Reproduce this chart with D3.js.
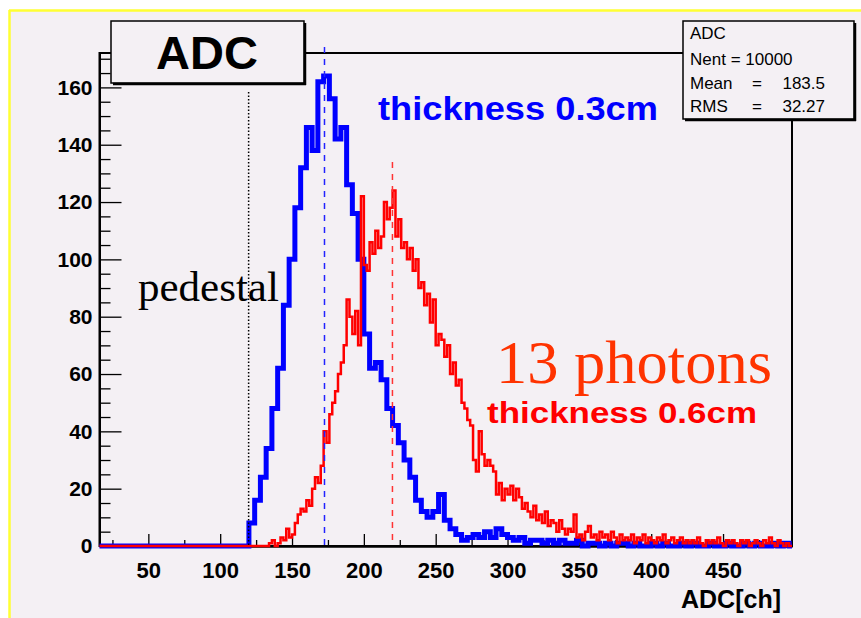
<!DOCTYPE html>
<html>
<head>
<meta charset="utf-8">
<script src="https://cdn.jsdelivr.net/npm/d3@7"></script>
<style>
  html, body { margin: 0; padding: 0; background: #ffffff; }
  svg { display: block; }
</style>
</head>
<body>
<svg id="chart" width="861" height="618"></svg>
<script>
// ---------------- data ----------------
const xDomain = [16, 498];
const yDomain = [0, 172];
const xMajorTicks = [50, 100, 150, 200, 250, 300, 350, 400, 450];
const xMinorTicks = [25, 75, 125, 175, 225, 275, 325, 375, 425, 475];
const yMajorTicks = [0, 20, 40, 60, 80, 100, 120, 140, 160];
const yMinorTicks = [5, 10, 15, 25, 30, 35, 45, 50, 55, 65, 70, 75, 85, 90, 95,
  105, 110, 115, 125, 130, 135, 145, 150, 155, 165, 170];

// thickness 0.3cm (blue): bins of 4 ch starting at 120
const blueLow = 120, blueBinWidth = 4;
const blueCounts = [
  8, 16, 24, 34, 48, 62, 84, 100, 118, 132,
  146, 138, 162, 164, 156, 142, 146, 126, 116, 100,
  74, 62, 64, 58, 48, 42, 36, 30, 24, 16,
  12, 10, 12, 18, 9, 6, 4, 2, 3, 4,
  3, 5, 3, 6, 4, 3, 2, 3, 1, 2,
  2, 1, 2, 1, 2, 1, 1, 2, 0, 1,
  1, 0, 1, 0, 1, 1, 0, 1, 0, 0,
  1, 0, 1, 0, 0, 1, 0, 1, 0, 0,
  1, 0, 0, 1, 0, 0, 1, 0, 1, 0,
  0, 1, 0, 1
];

// thickness 0.6cm (red): bins of 2 ch starting at 130
const redLow = 130, redBinWidth = 2;
const redCounts = [
  0, 0, 1, 2, 0, 1, 3, 2, 6, 3,          // 130-148
  4, 8, 11, 13, 12, 16, 14, 20, 24, 22,  // 150-168
  28, 40, 36, 46, 50, 54, 60, 64, 70, 86,// 170-188
  80, 74, 82, 70, 122, 98, 96, 106, 102, 110, // 190-208
  104, 108, 120, 114, 118, 124, 108, 114, 104, 106, // 210-228
  100, 104, 96, 100, 90, 92, 84, 88, 78, 86, // 230-248
  70, 74, 72, 66, 70, 60, 64, 56, 58, 50,  // 250-268
  48, 44, 42, 30, 26, 40, 32, 28, 30, 28,  // 270-288
  26, 18, 22, 16, 20, 18, 21, 16, 20, 17,  // 290-308
  13, 15, 12, 10, 14, 9, 11, 8, 12, 7,     // 310-328
  9, 8, 5, 9, 6, 4, 6, 5, 11, 3,           // 330-348
  4, 2, 5, 7, 3, 4, 2, 5, 3, 4,            // 350-368
  2, 5, 3, 1, 4, 2, 3, 2, 4, 1,            // 370-388
  3, 2, 4, 1, 3, 2, 1, 3, 2, 4,            // 390-408
  1, 2, 3, 1, 2, 3, 1, 2, 1, 2,            // 410-428
  1, 3, 1, 0, 2, 1, 2, 1, 3, 1,            // 430-448
  0, 2, 1, 2, 1, 0, 2, 1, 2, 0,            // 450-468
  1, 2, 1, 0, 2, 1, 3, 1, 0, 2,            // 470-488
  1, 0, 1, 0                               // 490-496
];

const blueMeanLine = 172.6;
const redMeanLine = 219.9;
const pedestalLine = 119.8;

const statsLines = [
  { label: "Mean", value: "183.5" },
  { label: "RMS", value: "32.27" }
];

// ---------------- drawing ----------------
const svg = d3.select("#chart");
const BG = "#f4f0f4";
const W = 861, H = 618;

svg.append("rect").attr("x", 0).attr("y", 0).attr("width", W).attr("height", H).attr("fill", "#ffffff");
svg.append("rect").attr("x", 9).attr("y", 10).attr("width", W - 9).attr("height", H - 10).attr("fill", BG);
svg.append("line").attr("x1", 9).attr("x2", W).attr("y1", 10.5).attr("y2", 10.5)
  .attr("stroke", "#ffff33").attr("stroke-width", 2.5);
svg.append("line").attr("x1", 9.5).attr("x2", 9.5).attr("y1", 10).attr("y2", H)
  .attr("stroke", "#ffff33").attr("stroke-width", 2.5);

const x = d3.scaleLinear().domain(xDomain).range([99.5, 792]);
const y = d3.scaleLinear().domain(yDomain).range([546, 53]);

const FONT = "'Liberation Sans', Arial, Helvetica, sans-serif";
const SERIF = "'Liberation Serif', 'Times New Roman', serif";

// frame
svg.append("rect")
  .attr("x", x(xDomain[0])).attr("y", y(yDomain[1]))
  .attr("width", x(xDomain[1]) - x(xDomain[0]))
  .attr("height", y(0) - y(yDomain[1]))
  .attr("fill", "none").attr("stroke", "#000").attr("stroke-width", 2);

// axes
const gx = svg.append("g").attr("transform", `translate(0,${y(0)})`);
gx.call(d3.axisBottom(x).tickValues(xMinorTicks).tickSizeInner(-6).tickSizeOuter(0).tickFormat(""));
gx.append("g").call(d3.axisBottom(x).tickValues(xMajorTicks).tickSizeInner(-12).tickSizeOuter(0).tickPadding(16));
gx.selectAll("path.domain").attr("stroke", "#000").attr("stroke-width", 2);
gx.selectAll("line").attr("stroke", "#000").attr("stroke-width", 1.3);
gx.selectAll("text").attr("font-family", FONT).attr("font-weight", "bold")
  .attr("font-size", 22).attr("fill", "#000");

const gy = svg.append("g").attr("transform", `translate(${x(xDomain[0])},0)`);
gy.call(d3.axisLeft(y).tickValues(yMinorTicks).tickSizeInner(-11).tickSizeOuter(0).tickFormat(""));
gy.append("g").call(d3.axisLeft(y).tickValues(yMajorTicks).tickSizeInner(-22).tickSizeOuter(0).tickPadding(7));
gy.selectAll("path.domain").attr("stroke", "#000").attr("stroke-width", 2);
gy.selectAll("line").attr("stroke", "#000").attr("stroke-width", 1.3);
gy.selectAll("text").attr("font-family", FONT).attr("font-weight", "bold")
  .attr("font-size", 21).attr("fill", "#000");

// axis title
svg.append("text").attr("x", 781).attr("y", 608).attr("text-anchor", "end")
  .attr("font-family", FONT).attr("font-weight", "bold").attr("font-size", 25)
  .text("ADC[ch]");

// histogram step paths
function stepPoints(low, width, counts) {
  const pts = [[xDomain[0], 0], [low, 0]];
  counts.forEach((c, i) => {
    const e0 = low + i * width;
    pts.push([e0, c], [e0 + width, c]);
  });
  pts.push([low + counts.length * width, 0], [xDomain[1], 0]);
  return pts;
}
const line = d3.line().x(d => x(d[0])).y(d => y(d[1]));

svg.append("path").attr("d", line(stepPoints(blueLow, blueBinWidth, blueCounts)))
  .attr("fill", "none").attr("stroke", "#0000ff").attr("stroke-width", 5)
  .attr("stroke-linejoin", "miter").attr("stroke-linecap", "butt");
svg.append("path").attr("d", line(stepPoints(redLow, redBinWidth, redCounts)))
  .attr("fill", "none").attr("stroke", "#ff0000").attr("stroke-width", 2.5)
  .attr("stroke-linejoin", "miter").attr("stroke-linecap", "butt");

// reference lines
svg.append("line").attr("x1", x(pedestalLine)).attr("x2", x(pedestalLine))
  .attr("y1", 92).attr("y2", y(0))
  .attr("stroke", "#000").attr("stroke-width", 1.5).attr("stroke-dasharray", "1.5,2");
svg.append("line").attr("x1", x(blueMeanLine)).attr("x2", x(blueMeanLine))
  .attr("y1", 47).attr("y2", y(0))
  .attr("stroke", "#2222ff").attr("stroke-width", 1.5).attr("stroke-dasharray", "6,6");
svg.append("line").attr("x1", x(redMeanLine)).attr("x2", x(redMeanLine))
  .attr("y1", 162).attr("y2", y(0))
  .attr("stroke", "#ff3333").attr("stroke-width", 1.5).attr("stroke-dasharray", "6,6");

// title box
function shadowBox(x0, y0, w, h) {
  svg.append("rect").attr("x", x0).attr("y", y0).attr("width", w).attr("height", h)
    .attr("fill", BG).attr("stroke", "#000").attr("stroke-width", 1.5);
  svg.append("line").attr("x1", x0 + w + 1).attr("x2", x0 + w + 1).attr("y1", y0 + 2).attr("y2", y0 + h + 2)
    .attr("stroke", "#000").attr("stroke-width", 2.5);
  svg.append("line").attr("x1", x0 + 2).attr("x2", x0 + w + 2).attr("y1", y0 + h + 1).attr("y2", y0 + h + 1)
    .attr("stroke", "#000").attr("stroke-width", 2.5);
}
shadowBox(111, 21, 193, 62);
svg.append("text").attr("x", 207).attr("y", 69).attr("text-anchor", "middle")
  .attr("font-family", FONT).attr("font-weight", "bold").attr("font-size", 47)
  .text("ADC");

// stats box
shadowBox(683, 21, 171, 98);
const sg = svg.append("g").attr("font-family", FONT).attr("font-size", 17).attr("fill", "#000");
sg.append("text").attr("x", 690).attr("y", 39).text("ADC");
sg.append("text").attr("x", 690).attr("y", 65).text("Nent = 10000");
statsLines.forEach((s, i) => {
  const yy = 89 + i * 22.5;
  sg.append("text").attr("x", 690).attr("y", yy).text(s.label);
  sg.append("text").attr("x", 752).attr("y", yy).text("=");
  sg.append("text").attr("x", 825).attr("y", yy).attr("text-anchor", "end").text(s.value);
});

// annotations
svg.append("text").attr("x", 378).attr("y", 120)
  .attr("font-family", FONT).attr("font-weight", "bold").attr("font-size", 33)
  .attr("textLength", 280).attr("lengthAdjust", "spacingAndGlyphs")
  .attr("fill", "#0000ff").text("thickness 0.3cm");
svg.append("text").attr("x", 487).attr("y", 423)
  .attr("font-family", FONT).attr("font-weight", "bold").attr("font-size", 30)
  .attr("textLength", 270).attr("lengthAdjust", "spacingAndGlyphs")
  .attr("fill", "#ff0000").text("thickness 0.6cm");
svg.append("text").attr("x", 496).attr("y", 383)
  .attr("font-family", SERIF).attr("font-size", 61)
  .attr("textLength", 276).attr("lengthAdjust", "spacingAndGlyphs")
  .attr("fill", "#ff3300").text("13 photons");
svg.append("text").attr("x", 138).attr("y", 301)
  .attr("font-family", SERIF).attr("font-size", 43)
  .attr("fill", "#000").text("pedestal");
</script>
</body>
</html>
